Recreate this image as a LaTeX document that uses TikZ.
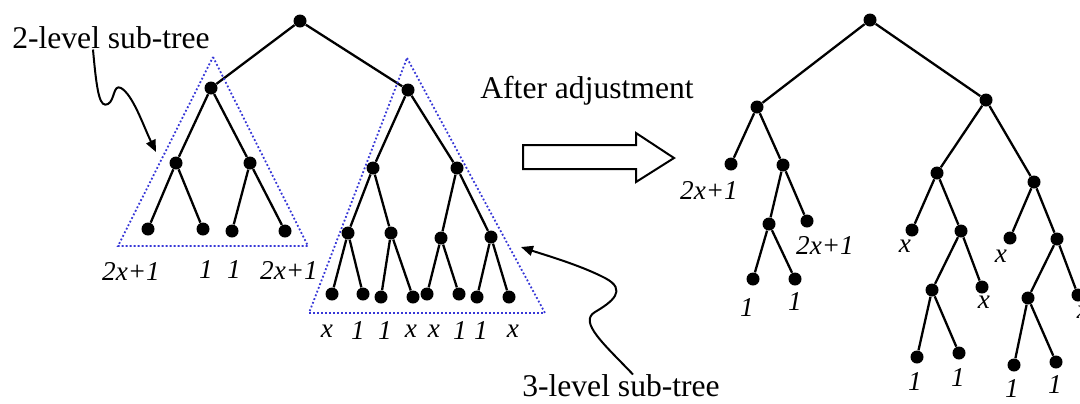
\documentclass[tikz,border=0pt]{standalone}
\usepackage{fontspec}
\setmainfont{Liberation Serif}
\usetikzlibrary{arrows.meta}
\definecolor{subblue}{RGB}{55,55,215}
\tikzset{
  vtx/.style={circle,fill=black,inner sep=0pt,minimum size=6.5pt},
  leaflbl/.style={inner sep=0pt,font=\fontsize{13.6}{15}\selectfont\itshape},
  bigtxt/.style={inner sep=0pt,font=\fontsize{15.8}{18}\selectfont},
  edge/.style={line width=1.15pt},
  subtree/.style={subblue,line width=0.9pt,dash pattern=on 0.9pt off 1.1pt},
  wavy/.style={line width=1pt,-{Triangle[length=6pt,width=5pt]}}
}
\begin{document}
\begin{tikzpicture}[x=0.5pt,y=-0.5pt]
  \useasboundingbox (0,0) rectangle (1080,403);
  % original tree
  \node[vtx] (r) at (300,21) {};
  \node[vtx] (a) at (211,88) {};
  \node[vtx] (aa) at (176,163) {};
  \node[vtx] (ab) at (250,163) {};
  \node[vtx] (aaa) at (148,229) {};
  \node[vtx] (aab) at (203,229) {};
  \node[vtx] (aba) at (232,231) {};
  \node[vtx] (abb) at (285,231) {};
  \node[vtx] (b) at (408,90) {};
  \node[vtx] (ba) at (373,168) {};
  \node[vtx] (bb) at (457,168) {};
  \node[vtx] (baa) at (348,233) {};
  \node[vtx] (bab) at (391,233) {};
  \node[vtx] (bba) at (441,238) {};
  \node[vtx] (bbb) at (491,237) {};
  \node[vtx] (baaa) at (332,294) {};
  \node[vtx] (baab) at (363,294) {};
  \node[vtx] (baba) at (381,297) {};
  \node[vtx] (babb) at (413,297) {};
  \node[vtx] (bbaa) at (427,294) {};
  \node[vtx] (bbab) at (459,294) {};
  \node[vtx] (bbba) at (477,297) {};
  \node[vtx] (bbbb) at (509,297) {};
  \draw[edge] (r) -- (a) (r) -- (b);
  \draw[edge] (a) -- (aa) (a) -- (ab);
  \draw[edge] (aa) -- (aaa) (aa) -- (aab) (ab) -- (aba) (ab) -- (abb);
  \draw[edge] (b) -- (ba) (b) -- (bb);
  \draw[edge] (ba) -- (baa) (ba) -- (bab) (bb) -- (bba) (bb) -- (bbb);
  \draw[edge] (baa) -- (baaa) (baa) -- (baab) (bab) -- (baba) (bab) -- (babb);
  \draw[edge] (bba) -- (bbaa) (bba) -- (bbab) (bbb) -- (bbba) (bbb) -- (bbbb);
  % sub-tree frames
  \draw[subtree] (213,57) -- (308,246) -- (118,246) -- cycle;
  \draw[subtree] (407,58) -- (545,313) -- (309,313) -- cycle;
  \node[leaflbl] (l1) at (131,271) {2x+1};
  \node[leaflbl] (l2) at (206,270) {1};
  \node[leaflbl] (l3) at (234,270) {1};
  \node[leaflbl] (l4) at (289,270) {2x+1};
  \node[leaflbl] (m1) at (327,331) {x};
  \node[leaflbl] (m2) at (358,331) {1};
  \node[leaflbl] (m3) at (385,331) {1};
  \node[leaflbl] (m4) at (411,331) {x};
  \node[leaflbl] (m5) at (434,331) {x};
  \node[leaflbl] (m6) at (460,331) {1};
  \node[leaflbl] (m7) at (481,331) {1};
  \node[leaflbl] (m8) at (513,331) {x};
  % captions
  \node[bigtxt] (two) at (111,38) {2-level sub-tree};
  \node[bigtxt] (three) at (621,386) {3-level sub-tree};
  \node[bigtxt] (after) at (587,91) {After adjustment};
  \coordinate (twoend) at (156,152);
  \coordinate (threeend) at (521,247);
  \draw[wavy] (two.south -| 93,0) .. controls (97,95) and (100,108) .. (108,104)
    .. controls (115,100) and (113,84) .. (121,88)
    .. controls (133,95) and (143,125) .. (twoend);
  \draw[wavy] (three.north -| 633,0) .. controls (605,345) and (578,322) .. (595,312)
    .. controls (612,302) and (628,290) .. (605,278)
    .. controls (580,265) and (545,255) .. (threeend);
  \draw[line width=1pt] (523,145) -- (636,145) -- (636,133) -- (674,158)
    -- (636,182) -- (636,169) -- (523,169) -- cycle;
  % adjusted tree
  \node[vtx] (s) at (870,20) {};
  \node[vtx] (sa) at (757,107) {};
  \node[vtx] (sb) at (986,100) {};
  \node[vtx] (saa) at (731,164) {};
  \node[vtx] (sab) at (783,165) {};
  \node[vtx] (saba) at (769,224) {};
  \node[vtx] (sabb) at (807,221) {};
  \node[vtx] (sabaa) at (753,279) {};
  \node[vtx] (sabab) at (795,279) {};
  \node[vtx] (sba) at (937,173) {};
  \node[vtx] (sbb) at (1034,182) {};
  \node[vtx] (sbaa) at (912,230) {};
  \node[vtx] (sbab) at (961,231) {};
  \node[vtx] (sbaba) at (932,290) {};
  \node[vtx] (sbabb) at (982,287) {};
  \node[vtx] (sbabaa) at (917,357) {};
  \node[vtx] (sbabab) at (959,353) {};
  \node[vtx] (sbba) at (1010,238) {};
  \node[vtx] (sbbb) at (1057,239) {};
  \node[vtx] (sbbba) at (1028,298) {};
  \node[vtx] (sbbbb) at (1078,295) {};
  \node[vtx] (sbbbaa) at (1014,365) {};
  \node[vtx] (sbbbab) at (1056,362) {};
  \draw[edge] (s) -- (sa) (s) -- (sb);
  \draw[edge] (sa) -- (saa) (sa) -- (sab) (sab) -- (saba) (sab) -- (sabb);
  \draw[edge] (saba) -- (sabaa) (saba) -- (sabab);
  \draw[edge] (sb) -- (sba) (sb) -- (sbb);
  \draw[edge] (sba) -- (sbaa) (sba) -- (sbab) (sbab) -- (sbaba) (sbab) -- (sbabb);
  \draw[edge] (sbaba) -- (sbabaa) (sbaba) -- (sbabab);
  \draw[edge] (sbb) -- (sbba) (sbb) -- (sbbb) (sbbb) -- (sbbba) (sbbb) -- (sbbbb);
  \draw[edge] (sbbba) -- (sbbbaa) (sbbba) -- (sbbbab);
  \node[leaflbl] (n1) at (709,190) {2x+1};
  \node[leaflbl] (n2) at (825,245) {2x+1};
  \node[leaflbl] (n3) at (747,308) {1};
  \node[leaflbl] (n4) at (795,302) {1};
  \node[leaflbl] (n5) at (905,246) {x};
  \node[leaflbl] (n6) at (984,302) {x};
  \node[leaflbl] (n7) at (915,382) {1};
  \node[leaflbl] (n8) at (958,378) {1};
  \node[leaflbl] (n9) at (1001,256) {x};
  \node[leaflbl] (n10) at (1083,312) {x};
  \node[leaflbl] (n11) at (1012,389) {1};
  \node[leaflbl] (n12) at (1055,385) {1};
\end{tikzpicture}
\end{document}
